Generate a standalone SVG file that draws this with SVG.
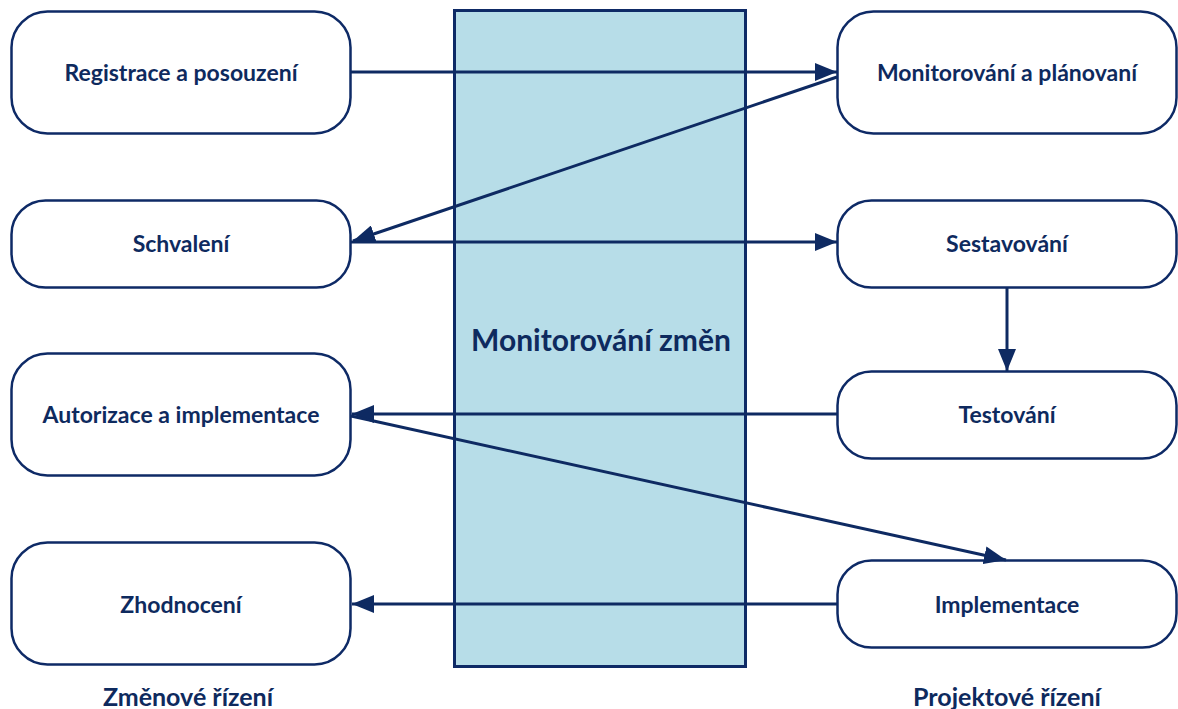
<svg xmlns="http://www.w3.org/2000/svg" width="1178" height="709" viewBox="0 0 1178 709">
  <style>
    .node rect { fill: #ffffff; stroke: #0e2a66; stroke-width: 2.5; }
    .label { font-family: Lato, "Open Sans", "Liberation Sans", sans-serif; font-weight: bold; font-size: 23px; fill: #0e2a5e; text-anchor: middle; dominant-baseline: central; }
    .title { font-size: 30px; }
    .caption { font-size: 25px; }
    .conn { stroke: #0e2a62; stroke-width: 3; fill: none; marker-end: url(#arrow); }
  </style>
  <defs>
    <marker id="arrow" markerUnits="userSpaceOnUse" markerWidth="24" markerHeight="18" refX="22" refY="9" orient="auto">
      <path d="M0,0 L22,9 L0,18 Z" fill="#0e2a62"/>
    </marker>
  </defs>

  <rect width="1178" height="709" fill="#ffffff"/>

  <!-- central monitoring band -->
  <g id="monitoring">
    <rect x="454.5" y="10.5" width="291" height="656" fill="#b7dde8" stroke="#0e2a66" stroke-width="3"/>
    <text class="label title" x="601" y="339">Monitorování změn</text>
  </g>

  <!-- change management column -->
  <g id="registrace" class="node">
    <rect x="11.5" y="11.5" width="339" height="122" rx="36"/>
    <text class="label" x="181" y="72">Registrace a posouzení</text>
  </g>
  <g id="schvaleni" class="node">
    <rect x="11.5" y="200.5" width="339" height="87" rx="34"/>
    <text class="label" x="181" y="243">Schvalení</text>
  </g>
  <g id="autorizace" class="node">
    <rect x="11.5" y="353.5" width="339" height="122" rx="36"/>
    <text class="label" x="181" y="414">Autorizace a implementace</text>
  </g>
  <g id="zhodnoceni" class="node">
    <rect x="11.5" y="542.5" width="339" height="122" rx="36"/>
    <text class="label" x="181" y="604">Zhodnocení</text>
  </g>

  <!-- project management column -->
  <g id="monitorovani" class="node">
    <rect x="837.5" y="11.5" width="339" height="122" rx="36"/>
    <text class="label" x="1007" y="72">Monitorování a plánovaní</text>
  </g>
  <g id="sestavovani" class="node">
    <rect x="837.5" y="200.5" width="339" height="87" rx="34"/>
    <text class="label" x="1007" y="243">Sestavování</text>
  </g>
  <g id="testovani" class="node">
    <rect x="837.5" y="371.5" width="339" height="87" rx="34"/>
    <text class="label" x="1007" y="414">Testování</text>
  </g>
  <g id="implementace" class="node">
    <rect x="837.5" y="560.5" width="339" height="87" rx="34"/>
    <text class="label" x="1007" y="604">Implementace</text>
  </g>

  <!-- column captions -->
  <g id="captions">
    <text class="label caption" x="188" y="696">Změnové řízení</text>
    <text class="label caption" x="1007" y="696">Projektové řízení</text>
  </g>

  <!-- connectors -->
  <g id="connectors">
    <line class="conn" x1="351" y1="72" x2="837" y2="72"/>
    <line class="conn" x1="837" y1="77" x2="353" y2="241"/>
    <line class="conn" x1="351" y1="242" x2="837" y2="242"/>
    <line class="conn" x1="1007" y1="288" x2="1007" y2="371"/>
    <line class="conn" x1="837" y1="414" x2="352" y2="414"/>
    <line class="conn" x1="351" y1="416" x2="1006" y2="560"/>
    <line class="conn" x1="837" y1="604" x2="352" y2="604"/>
  </g>
</svg>
